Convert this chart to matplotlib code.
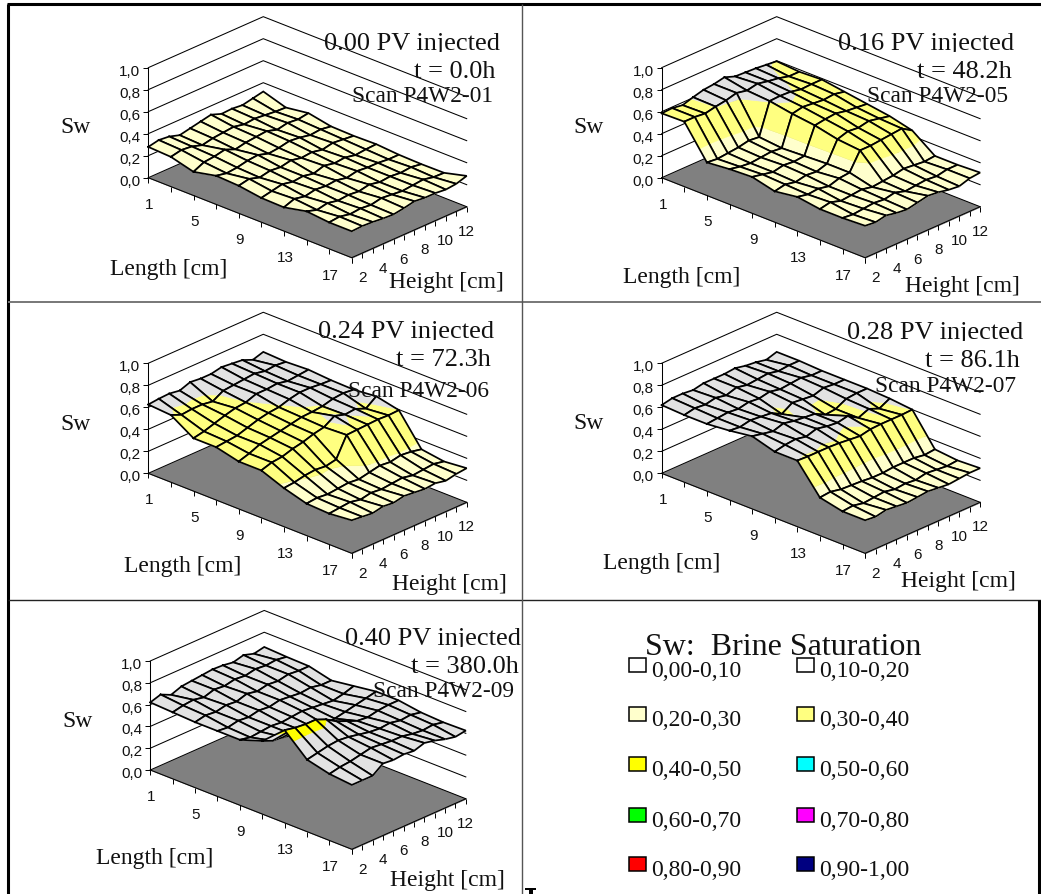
import numpy as np
import matplotlib
matplotlib.use("Agg")
import matplotlib.pyplot as plt
from matplotlib.lines import Line2D
from matplotlib.patches import Rectangle
from matplotlib.transforms import Bbox
from mpl_toolkits.mplot3d import proj3d
from mpl_toolkits.mplot3d.art3d import Poly3DCollection

W, H = 1041, 894

sw_01 = [[.28, .30, .29, .26, .28, .30, .32, .285, .29, .28, .30, .32],
         [.27, .29, .28, .25, .27, .28, .29, .27, .28, .27, .26, .255],
         [.215, .26, .27, .29, .25, .27, .28, .29, .26, .28, .27, .285],
         [.26, .24, .25, .27, .28, .25, .26, .28, .27, .25, .26, .245],
         [.25, .27, .24, .26, .25, .27, .25, .26, .24, .26, .25, .24],
         [.22, .24, .26, .24, .25, .23, .26, .24, .25, .23, .24, .245],
         [.215, .25, .23, .25, .24, .25, .23, .25, .24, .24, .23, .23],
         [.26, .23, .25, .23, .24, .23, .25, .23, .24, .23, .24, .225],
         [.24, .25, .23, .24, .23, .25, .24, .23, .24, .25, .23, .227],
         [.24, .245, .24, .23, .225, .24, .26, .25, .25, .24, .25, .28]]
sw_05 = [[.585, .59, .575, .605, .63, .64, .66, .625, .62, .615, .605, .595],
         [.59, .59, .58, .60, .615, .64, .62, .64, .62, .605, .58, .58],
         [.30, .29, .30, .31, .33, .32, .605, .61, .605, .585, .59, .59],
         [.32, .30, .29, .30, .31, .30, .57, .59, .58, .57, .58, .56],
         [.33, .31, .29, .31, .30, .31, .545, .56, .57, .55, .54, .53],
         [.28, .30, .28, .30, .29, .32, .50, .53, .52, .54, .52, .50],
         [.31, .29, .30, .28, .31, .32, .48, .48, .49, .50, .51, .45],
         [.28, .30, .27, .28, .29, .27, .28, .29, .31, .30, .29, .30],
         [.28, .27, .28, .29, .28, .30, .27, .28, .29, .28, .30, .30],
         [.29, .28, .30, .28, .27, .29, .31, .30, .28, .27, .30, .31]]
sw_06 = [[.625, .635, .64, .625, .66, .65, .65, .67, .66, .65, .61, .64],
         [.61, .57, .58, .58, .565, .62, .63, .64, .65, .63, .64, .63],
         [.48, .50, .53, .56, .585, .595, .63, .63, .64, .62, .63, .64],
         [.48, .49, .50, .53, .56, .58, .59, .62, .64, .64, .63, .625],
         [.43, .46, .50, .52, .54, .56, .58, .585, .595, .62, .63, .62],
         [.43, .46, .47, .50, .52, .55, .57, .63, .60, .61, .57, .64],
         [.35, .36, .38, .39, .38, .40, .58, .585, .59, .595, .59, .595],
         [.29, .30, .29, .30, .31, .30, .32, .34, .33, .35, .34, .32],
         [.28, .29, .30, .28, .30, .29, .30, .31, .29, .30, .31, .29],
         [.30, .29, .28, .30, .29, .31, .30, .29, .30, .28, .30, .31]]
sw_07 = [[.62, .64, .64, .63, .65, .65, .65, .66, .64, .63, .61, .64],
         [.61, .63, .62, .64, .62, .65, .63, .64, .65, .63, .64, .64],
         [.61, .62, .63, .62, .64, .63, .65, .63, .64, .65, .63, .63],
         [.63, .62, .64, .63, .62, .57, .63, .62, .61, .64, .63, .63],
         [.66, .64, .62, .65, .63, .62, .61, .56, .57, .62, .63, .63],
         [.60, .62, .63, .61, .64, .62, .61, .63, .57, .61, .57, .62],
         [.60, .595, .595, .595, .59, .58, .57, .59, .595, .595, .595, .60],
         [.345, .355, .335, .33, .325, .315, .315, .325, .325, .325, .31, .32],
         [.30, .31, .29, .30, .31, .29, .30, .29, .31, .30, .29, .30],
         [.30, .29, .31, .30, .29, .30, .31, .30, .29, .30, .31, .31]]
sw_09 = [[.62, .65, .605, .64, .65, .66, .67, .665, .65, .675, .645, .665],
         [.61, .63, .64, .62, .65, .64, .66, .65, .67, .66, .67, .655],
         [.60, .62, .61, .63, .62, .65, .63, .65, .64, .66, .65, .65],
         [.60, .59, .61, .60, .62, .61, .63, .62, .61, .62, .60, .60],
         [.60, .58, .59, .60, .59, .60, .61, .60, .59, .58, .60, .63],
         [.67, .63, .62, .60, .59, .58, .57, .58, .60, .62, .64, .66],
         [.85, .83, .82, .82, .78, .72, .68, .64, .63, .65, .66, .66],
         [.66, .68, .70, .71, .70, .68, .66, .65, .66, .64, .65, .63],
         [.61, .63, .64, .66, .68, .67, .66, .66, .64, .63, .64, .62],
         [.59, .59, .59, .66, .65, .66, .65, .68, .66, .63, .61, .625]]

length_labels = ["1", "5", "9", "13", "17"]
height_labels = ["2", "4", "6", "8", "10", "12"]
sw_labels = ["0,0", "0,2", "0,4", "0,6", "0,8", "1,0"]
sw_ticks = [0, .2, .4, .6, .8, 1]

pv_labels = ["0.00 PV injected", "0.16 PV injected", "0.24 PV injected", "0.28 PV injected", "0.40 PV injected"]
time_labels = ["t = 0.0h", "t = 48.2h", "t = 72.3h", "t = 86.1h", "t = 380.0h"]
scan_labels = ["Scan P4W2-01", "Scan P4W2-05", "Scan P4W2-06", "Scan P4W2-07", "Scan P4W2-09"]

legend_labels = ["0,00-0,10", "0,10-0,20", "0,20-0,30", "0,30-0,40", "0,40-0,50",
                 "0,50-0,60", "0,60-0,70", "0,70-0,80", "0,80-0,90", "0,90-1,00"]
legend_colors = ["#FFFFFF", "#FFFFFF", "#FFFFCC", "#FFFF80", "#FFFF00",
                 "#00FFFF", "#00FF00", "#FF00FF", "#FF0000", "#000080"]

PALE, YEL, BRIGHT, GREY = "#FFFFCC", "#FFFF80", "#FFFF00", "#E2E2E2"

# pixel layout of each panel
panels = [
    dict(sw=sw_01, origin=(148.3, 177.7), span=318.4, levels=[], colors=[PALE],
         pv=(324, 50), t=(495, 78), scan=(352, 102), s=(60, 133), ln=(110, 275), ht=(389, 288)),
    dict(sw=sw_05, origin=(661.7, 177.7), span=318.4, levels=[.40, .60], colors=[PALE, YEL, GREY],
         pv=(838, 50), t=(1012, 78), scan=(867, 102), s=(573, 133), ln=(623, 283), ht=(905, 292)),
    dict(sw=sw_06, origin=(148.3, 473.3), span=318.4, levels=[.37, .60], colors=[PALE, YEL, GREY],
         pv=(318, 338), t=(491, 366), scan=(348, 397), s=(60, 430), ln=(124, 572), ht=(392, 590)),
    dict(sw=sw_07, origin=(661.7, 473.3), span=318.4, levels=[.42, .60], colors=[PALE, YEL, GREY],
         pv=(847, 339), t=(1020, 367), scan=(875, 392), s=(573, 429), ln=(603, 569), ht=(901, 587)),
    dict(sw=sw_09, origin=(150.3, 770), span=315.5, levels=[.78], colors=[GREY, BRIGHT],
         pv=(345, 645), t=(519, 673), scan=(373, 697), s=(62, 727), ln=(96, 864), ht=(390, 886)),
]

SERIF = "Liberation Serif"
SANS = "Liberation Sans"

fig = plt.figure(figsize=(W / 100, H / 100), dpi=100)
fig.patch.set_facecolor("white")


def px_text(x, y, s, size, family=SERIF, ha="left", va="baseline"):
    return fig.text(x / W, 1 - y / H, s, fontsize=size, family=family, ha=ha, va=va, color="#111111")


def px_line(xs, ys, lw=0.7, color="black"):
    fig.add_artist(Line2D([x / W for x in xs], [1 - y / H for y in ys], lw=lw, color=color,
                          solid_capstyle="butt"))


def clip_band(pts, lo, hi):
    # cut one quad to the part lying between two Sw levels
    out = pts
    for level, keep_above in ((lo, True), (hi, False)):
        if level is None:
            continue
        res = []
        for k in range(len(out)):
            a, b = out[k], out[(k + 1) % len(out)]
            ina = a[2] >= level if keep_above else a[2] <= level
            inb = b[2] >= level if keep_above else b[2] <= level
            if ina:
                res.append(a)
            if ina != inb:
                f = (level - a[2]) / (b[2] - a[2])
                res.append(tuple(a[n] + f * (b[n] - a[n]) for n in range(3)))
        out = res
        if not out:
            return []
    return out


def to_px(ax, x, y, z):
    ax.apply_aspect()
    xs, ys, _ = proj3d.proj_transform(x, y, z, ax.get_proj())
    p = ax.transData.transform((xs, ys))
    return p[0], H - p[1]


for n, p in enumerate(panels):
    ax = fig.add_axes([(p["origin"][0] - 100) / W, (H - p["origin"][1] - 350) / H, 700 / W, 700 / H],
                      projection="3d", proj_type="ortho")
    ax.set_axis_off()
    ax.patch.set_visible(False)
    ax.computed_zorder = False
    ax.view_init(elev=24.68, azim=-46.72)
    ax.set_xlim(0, 9, view_margin=0)
    ax.set_ylim(0, 11, view_margin=0)
    ax.set_zlim(0, 1, view_margin=0)
    ax.set_autoscale_on(False)

    # fit the projection to the panel
    aspect = (279.4, 167.7, 121.1)
    ax.set_box_aspect(aspect, zoom=1)
    a0, a1 = to_px(ax, 0, 0, 0), to_px(ax, 9, 11, 0)
    ax.set_box_aspect(aspect, zoom=p["span"] / (a1[0] - a0[0]))
    a0 = to_px(ax, 0, 0, 0)
    pos = ax.get_position(original=True)
    ax.set_position([pos.x0 + (p["origin"][0] - a0[0]) / W, pos.y0 - (p["origin"][1] - a0[1]) / H,
                     pos.width, pos.height])

    # floor and walls
    floor = Poly3DCollection([[(0, 0, 0), (9, 0, 0), (9, 11, 0), (0, 11, 0)]], facecolors="#808080",
                             edgecolors="#808080", linewidths=0.5, zorder=1)
    ax.add_collection3d(floor, autolim=False)
    for z in sw_ticks:
        ax.plot([0, 0, 9], [0, 11, 11], [z, z, z], color="black", lw=0.75, zorder=2)
    ax.plot([0, 0], [0, 0], [0, 1], color="black", lw=0.75, zorder=2)
    ax.plot([0, 9, 9], [0, 0, 11], [0, 0, 0], color="black", lw=0.75, zorder=2)

    # surface, drawn cell by cell from the back
    sw = np.array(p["sw"])
    edges = [None] + p["levels"] + [None]
    order = 10
    for i in range(9):
        for j in range(10, -1, -1):
            quad = [(i, j, sw[i, j]), (i + 1, j, sw[i + 1, j]), (i + 1, j + 1, sw[i + 1, j + 1]), (i, j + 1, sw[i, j + 1])]
            for b, col in enumerate(p["colors"]):
                part = clip_band(quad, edges[b], edges[b + 1])
                if len(part) >= 3:
                    pc = Poly3DCollection([part], facecolors=col, edgecolors=col, linewidths=0.3, zorder=order)
                    ax.add_collection3d(pc, autolim=False)
            xs, ys, zs = zip(*(quad + quad[:1]))
            ax.plot(xs, ys, zs, color="black", lw=1.25, zorder=order + 0.5, solid_joinstyle="miter")
            order += 1

    # axes furniture
    for z, lab in zip(sw_ticks, sw_labels):
        x0, y0 = to_px(ax, 0, 0, z)
        px_line([x0 - 5, x0], [y0, y0])
        px_text(x0 - 8, y0 + 4, lab, 11, SANS, ha="right", va="center")
    for i in range(10):
        x0, y0 = to_px(ax, i, 0, 0)
        px_line([x0, x0], [y0, y0 + 5])
    for k, lab in enumerate(length_labels):
        x0, y0 = to_px(ax, 2 * k, 0, 0)
        px_text(x0 + 1, y0 + 27, lab, 11, SANS, ha="center", va="center")
    for j in range(12):
        x0, y0 = to_px(ax, 9, j, 0)
        px_line([x0, x0], [y0, y0 + 5])
    for k, lab in enumerate(height_labels):
        x0, y0 = to_px(ax, 9, 2 * k + 1, 0)
        px_text(x0, y0 + 25, lab, 11, SANS, ha="center", va="center")

    # the first line loses its descenders in the original
    pv = px_text(*p["pv"], pv_labels[n], 19)
    pv.set_clip_box(Bbox([[0, H - p["pv"][1] - 1.5], [W, H]]))
    pv.set_clip_on(True)
    px_text(*p["t"], time_labels[n], 19, ha="right")
    px_text(*p["scan"], scan_labels[n], 16.8)
    px_text(*p["s"], "Sw", 17)
    px_text(*p["ln"], "Length [cm]", 17)
    px_text(*p["ht"], "Height [cm]", 17)

# legend panel
px_text(645, 655, "Sw:  Brine Saturation", 23)
rows_y = [665, 714, 764, 815, 864]
for k, (lab, col) in enumerate(zip(legend_labels, legend_colors)):
    x0 = 629 if k % 2 == 0 else 797
    y0 = rows_y[k // 2]
    fig.add_artist(Rectangle((x0 / W, 1 - (y0 + 7) / H), 17 / W, 14 / H, facecolor=col, edgecolor="black",
                             lw=1.1, transform=fig.transFigure))
    px_text(x0 + 22, y0 + 12, lab, 17)

# frame of the page
px_line([7, 1041], [4, 4], lw=2.2)
px_line([8, 8], [4, 894], lw=2.2)
px_line([8, 1041], [302, 302], lw=1.4, color="#777777")
px_line([8, 1041], [599.5, 599.5], lw=1.0, color="#222222")
px_line([521.5, 521.5], [4, 894], lw=1.0, color="#555555")
px_line([1039, 1039], [600, 894], lw=2.2)
fig.add_artist(Rectangle((525 / W, 1 - 890 / H), 11 / W, 2.5 / H, facecolor="black", edgecolor="none", transform=fig.transFigure))
fig.add_artist(Rectangle((528.5 / W, 1 - 894 / H), 4.5 / W, 4.5 / H, facecolor="black", edgecolor="none", transform=fig.transFigure))

fig.savefig("out.png", dpi=100)
